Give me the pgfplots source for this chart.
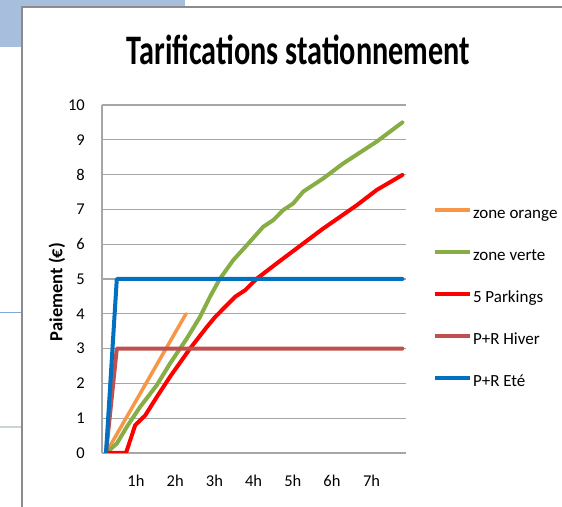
\documentclass[border=0pt]{standalone}
\usepackage{fontspec}
\setmainfont{Carlito}
\usepackage{pgfplots}
\pgfplotsset{compat=1.18}
\definecolor{bgblue}{HTML}{A7BFDD}
\definecolor{framegray}{HTML}{8C8C8C}
\definecolor{gridgray}{HTML}{A6A6A6}
\definecolor{corange}{HTML}{F79646}
\definecolor{cgreen}{HTML}{86AE45}
\definecolor{cred}{HTML}{FF0000}
\definecolor{cbrown}{HTML}{C0504D}
\definecolor{cblue}{HTML}{0070C0}
\begin{document}
\begin{tikzpicture}
\begin{scope}[x=1bp,y=1bp]
\useasboundingbox (0,0) rectangle (562,507);
\clip (0,0) rectangle (562,507);
\fill[bgblue] (0,460) rectangle (185,507);
\draw[color={rgb,255:red,127;green,167;blue,217}, line width=1] (0,194) -- (22,194);
\draw[color={rgb,255:red,200;green,216;blue,208}, line width=3] (0,80) -- (22,80);
\filldraw[fill=white, draw=framegray, line width=2] (22,-10) rectangle (580,500);
\end{scope}
\begin{axis}[
  at={(102bp,54bp)}, anchor=south west, scale only axis,
  width=304bp, height=348bp,
  xmin=-0.1, xmax=7.5, ymin=0, ymax=10,
  axis x line=bottom, axis y line=left,
  axis line style={draw=gridgray, line width=1.5bp, -},
  ytick={0,1,...,10},
  ymajorgrids, grid style={gridgray, line width=1.3bp},
  xtick={0.75,1.73,2.71,3.69,4.67,5.65,6.64},
  xticklabels={1h,2h,3h,4h,5h,6h,7h},
  major tick length=0pt,
  /pgf/number format/assume math mode=true,
  tick label style={font=\fontsize{16.5bp}{19bp}\selectfont, text=black},
  yticklabel style={anchor=east, inner sep=0pt, xshift=-17bp},
  xticklabel style={anchor=north, inner sep=0pt, yshift=-22bp},
  legend style={at={(axis description cs:1.0888,0.7085)}, anchor=north west,
    draw=none, fill=none, inner sep=0pt, outer sep=0pt, row sep=26bp,
    font=\fontsize{17bp}{20bp}\selectfont,
    nodes={inner xsep=1bp, inner ysep=0pt, text height=12bp, text depth=4bp}},
  legend cell align=left,
  legend image code/.code={\draw[#1, line width=4bp, line cap=butt] (0bp,4bp) -- (35bp,4bp);},
  every axis plot/.append style={line join=round, line cap=round},
]
\addplot[corange, line width=3.5bp] coordinates {(0,0) (2.0,4.0)};
\addlegendentry{zone orange}
\addplot[cgreen, line width=4bp] coordinates {
(0,0) (0.27,0.27) (0.52,0.75) (0.85,1.32) (1.27,1.95) (1.6,2.57) (2.02,3.29)
(2.35,3.91) (2.6,4.49) (2.85,5.01) (3.18,5.54) (3.52,5.97) (3.93,6.5)
(4.18,6.69) (4.43,6.98) (4.68,7.17) (4.93,7.51) (5.43,7.89) (5.93,8.32)
(6.77,8.95) (7.41,9.5)};
\addlegendentry{zone verte}
\addplot[cred, line width=4bp] coordinates {
(0,0) (0.5,0) (0.73,0.8) (0.98,1.08) (1.27,1.61) (1.6,2.19) (2.1,3.0)
(2.52,3.62) (2.73,3.91) (3.23,4.49) (3.48,4.68) (3.77,5.01) (4.27,5.45)
(4.93,6.02) (5.43,6.45) (6.27,7.12) (6.77,7.56) (7.41,7.99)};
\addlegendentry{5 Parkings}
\addplot[cbrown, line width=4bp] coordinates {(0,0) (0.27,3) (7.41,3)};
\addlegendentry{P+R Hiver}
\addplot[cblue, line width=4bp] coordinates {(0,0) (0.27,5) (7.41,5)};
\addlegendentry{P+R Eté}
\end{axis}
\node[anchor=base, inner sep=0pt] at (298.5bp,442bp) {\scalebox{0.72}[1]{\fontsize{42bp}{50bp}\selectfont\bfseries Tarifications stationnement}};
\node[rotate=90, inner sep=0pt] at (57bp,215bp) {\fontsize{18.5bp}{22bp}\selectfont\bfseries Paiement (€)};
\end{tikzpicture}
\end{document}
